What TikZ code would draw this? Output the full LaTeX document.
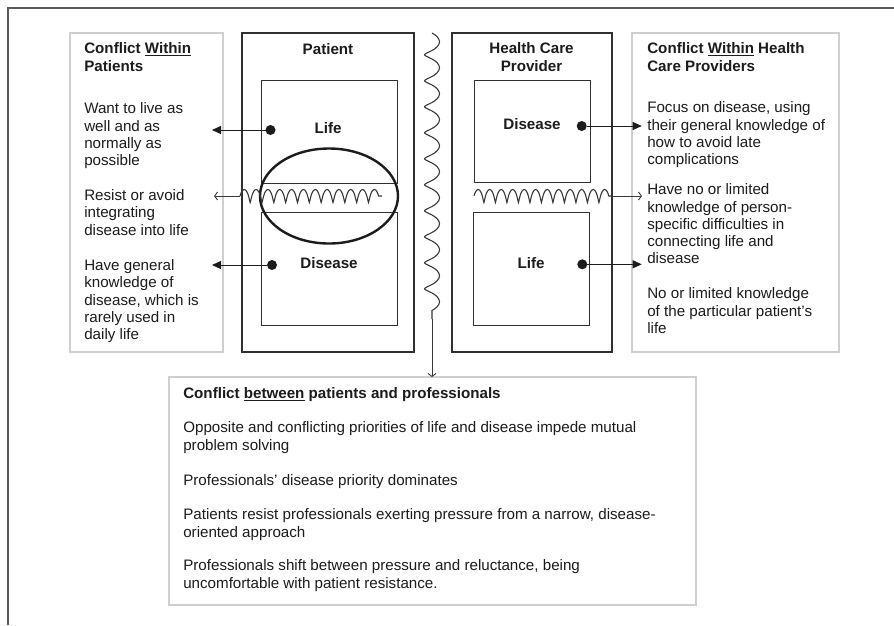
\documentclass[tikz,border=0pt]{standalone}
\usepackage{fontspec}
\setmainfont{Liberation Sans}
\usetikzlibrary{arrows.meta,decorations.pathmorphing,shapes.geometric}

\definecolor{ink}{HTML}{1C1C1C}
\definecolor{rule}{HTML}{5A5A5A}
\definecolor{pale}{HTML}{CFCFCF}
\definecolor{boxline}{HTML}{303030}
\definecolor{waveline}{HTML}{383838}

\begin{document}
\begin{tikzpicture}[x=1pt,y=-1pt,
  every node/.style={inner sep=0pt, outer sep=0pt},
  panel/.style={draw=pale, line width=1.4pt, anchor=north west},
  column/.style={draw=boxline, line width=1.3pt, anchor=north west},
  area/.style={draw=boxline, line width=1pt, anchor=north west},
  txt/.style={anchor=north west, align=left, text=ink,
    font=\fontsize{15.15}{17.3}\selectfont, execute at begin node=\strut},
  btxt/.style={txt, font=\fontsize{15.15}{17.3}\selectfont\bfseries},
  ctxt/.style={anchor=north, align=center, text=ink,
    font=\fontsize{15.15}{17.3}\selectfont\bfseries, execute at begin node=\strut},
  lbl/.style={anchor=base, text=ink, font=\fontsize{15.15}{17.3}\selectfont\bfseries},
  dot/.style={circle, fill=ink, minimum size=10pt},
  arr/.style={draw=ink, line width=0.9pt, -{Triangle[length=9pt,width=8pt]}},
  barb/.style={draw=waveline, line width=0.9pt, -{Straight Barb[length=3pt,width=8pt]}},
  wave/.style={draw=waveline, line width=1.1pt, decorate,
    decoration={coil, #1}},
]
\useasboundingbox (0,0) rectangle (894,625);
\fill[white] (0,0) rectangle (894,625);

% page frame
\draw[rule, line width=1.6pt] (8,625) -- (8,8) -- (894,8);

% outer panels and columns
\node[panel, minimum width=153, minimum height=319] (pconf) at (70,33) {};
\node[column, minimum width=172, minimum height=319] (patient) at (242,33) {};
\node[area, minimum width=136, minimum height=103] (plife) at (261,80) {};
\node[area, minimum width=136, minimum height=113] (pdis) at (261,212) {};
\node[column, minimum width=160, minimum height=319] (hcp) at (452,33) {};
\node[area, minimum width=116, minimum height=102] (hdis) at (474,80) {};
\node[area, minimum width=116, minimum height=113] (hlife) at (473,212) {};
\node[panel, minimum width=207, minimum height=319] (hconf) at (632,33) {};
\node[panel, minimum width=527, minimum height=228] (between) at (169,377) {};

% area of conflict inside the patient
\node[ellipse, draw=ink, line width=2.4pt, minimum width=138, minimum height=95] (focus) at (329,196) {};

% column labels
\node[ctxt] (patientT) at (328,42.8) {Patient};
\node[ctxt] (hcpT) at (531.5,42.8) {Health Care\\Provider};
\node[lbl] (plifeT) at (328,133.3) {Life};
\node[lbl] (pdisT) at (329,268.3) {Disease};
\node[lbl] (hdisT) at (532,129.3) {Disease};
\node[lbl] (hlifeT) at (531,268.3) {Life};

% conflict within patients
\node[btxt] (pconfT) at (84.3,42.8) {Conflict \underline{Within}\\Patients};
\node[txt] (pc1) at (84.3,102.8) {Want to live as\\well and as\\normally as\\possible};
\node[txt] (pc2) at (84.3,189.5) {Resist or avoid\\integrating\\disease into life};
\node[txt] (pc3) at (84.3,259.5) {Have general\\knowledge of\\disease, which is\\rarely used in\\daily life};

% conflict within health care providers
\node[btxt] (hconfT) at (647.3,42.8) {Conflict \underline{Within} Health\\Care Providers};
\node[txt] (hc1) at (647.3,101.8) {Focus on disease, using\\their general knowledge of\\how to avoid late\\complications};
\node[txt] (hc2) at (647.3,183.8) {Have no or limited\\knowledge of person-\\specific difficulties in\\connecting life and\\disease};
\node[txt] (hc3) at (647.3,287.8) {No or limited knowledge\\of the particular patient's\\life};

% conflict between patients and professionals
\node[btxt] (betweenT) at (183.3,386.8) {Conflict \underline{between} patients and professionals};
\node[txt] (b1) at (183.3,421.8) {Opposite and conflicting priorities of life and disease impede mutual\\problem solving};
\node[txt] (b2) at (183.3,473.8) {Professionals' disease priority dominates};
\node[txt] (b3) at (183.3,508.8) {Patients resist professionals exerting pressure from a narrow, disease-\\oriented approach};
\node[txt] (b4) at (183.3,559.8) {Professionals shift between pressure and reluctance, being\\uncomfortable with patient resistance.};

% links from the life and disease areas to the texts
\node[dot] (plD) at (270.5,130) {};
\node[dot] (pdD) at (272,265) {};
\node[dot] (hdD) at (581.7,126) {};
\node[dot] (hlD) at (582.3,264.3) {};
\coordinate (plTip) at (212,130);
\coordinate (pdTip) at (212,265);
\coordinate (hdTip) at (641.7,126);
\coordinate (hlTip) at (641.7,264.3);
\draw[arr] (plD) -- (plTip);
\draw[arr] (pdD) -- (pdTip);
\draw[arr] (hdD) -- (hdTip);
\draw[arr] (hlD) -- (hlTip);

% wavy tension lines
\coordinate (pwA) at (382,196);
\coordinate (pwB) at (240,196);
\coordinate (pwTip) at (214,196);
\draw[wave={segment length=11.83, amplitude=6.5, aspect=0.2}] (pwB) -- (pwA);
\draw[barb] (pwB) -- (pwTip);

\coordinate (hwA) at (474,196);
\coordinate (hwB) at (612,196);
\coordinate (hwTip) at (642,196);
\draw[wave={segment length=11.5, amplitude=6.5, aspect=0.2}] (hwA) -- (hwB);
\draw[barb] (hwB) -- (hwTip);

\coordinate (vwA) at (432,33);
\coordinate (vwB) at (432,319);
\draw[wave={segment length=26, amplitude=7.5, aspect=0.3}] (vwA) -- (vwB);
\draw[barb] (vwB) -- (vwB |- between.north);
\end{tikzpicture}
\end{document}
